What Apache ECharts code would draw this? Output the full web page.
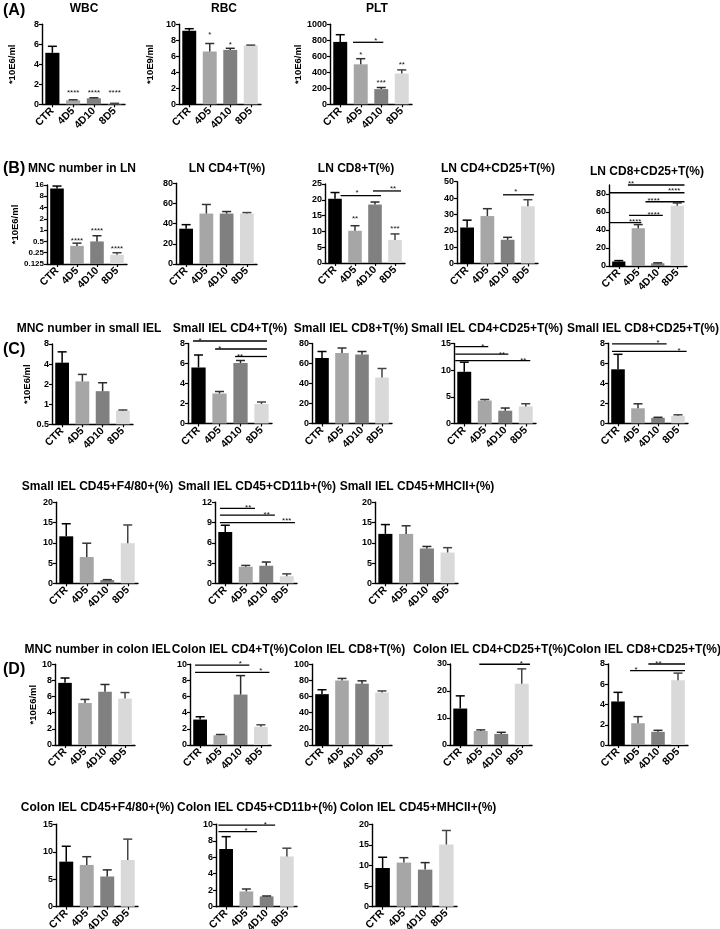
<!DOCTYPE html>
<html><head><meta charset="utf-8">
<script src="https://cdn.jsdelivr.net/npm/echarts@6/dist/echarts.min.js"></script>
<style>html,body{margin:0;padding:0;background:#fff}#c{width:720px;height:929px}</style>
</head><body><div id="c"></div><script>
// ---------- DATA ----------
const groups = ['CTR', '4D5', '4D10', '8D5'];
// (A)
const wbcMean = [5.15, 0.4, 0.6, 0.08];   const wbcErr = [0.65, 0.05, 0.05, 0.02];
const wbcStars = [[1, 1.33, '****'], [2, 1.33, '****'], [3, 1.33, '****']];
const rbcMean = [9.2, 6.6, 6.8, 7.35];    const rbcErr = [0.25, 1.0, 0.2, 0.05];
const rbcStars = [[1, 8.9, '*'], [2, 7.7, '*']];
const pltMean = [780, 500, 190, 385];     const pltErr = [90, 70, 20, 45];
const pltLines = [[0.62, 2.1, 775]];
const pltStars = [[1.74, 825, '*'], [1, 650, '*'], [2, 300, '***'], [3, 520, '**']];
// (B)
const lnMncMean = [13, 0.38, 0.5, 0.22];  const lnMncErr = [2, 0.07, 0.21, 0.03];
const lnMncStars = [[1, 0.58, '****'], [2, 1.07, '****'], [3, 0.36, '****']];
const lnCd4Mean = [35, 50, 50, 50];       const lnCd4Err = [4, 9, 2, 1];
const lnCd8Mean = [20.3, 10.2, 18.5, 7.3]; const lnCd8Err = [2, 1.6, 0.8, 1.9];
const lnCd8Lines = [[0.28, 2.3, 21.3], [1.9, 3.3, 22.8]];
const lnCd8Stars = [[1.1, 22.8, '*'], [2.9, 24.1, '**'], [1, 14.5, '**'], [3, 11.5, '***']];
const lnCd4Cd25Mean = [22, 29, 14.5, 35]; const lnCd4Cd25Err = [4.5, 4.5, 1.5, 4];
const lnCd4Cd25Lines = [[1.77, 3.3, 42]];
const lnCd4Cd25Stars = [[2.4, 45, '*']];
const lnCd8Cd25Mean = [5, 42, 3, 67];     const lnCd8Cd25Err = [1, 4, 0.5, 3];
const lnCd8Cd25Lines = [[0.47, 3.37, 90], [-0.47, 3.37, 81.4], [1.37, 3.37, 71.4], [0.53, 2.26, 56.3], [-0.47, 1.16, 48.1]];
const lnCd8Cd25Stars = [[0.63, 93.3, '**'], [2.84, 85.6, '****'], [1.79, 74.4, '****'], [1.79, 59.2, '****'], [0.84, 51.1, '****']];
// (C)
const siMncMean = [4.2, 2.2, 1.57, 0.8];  const siMncErr = [1.9, 0.6, 0.53, 0.02];
const siCd4Mean = [5.6, 3.0, 6.05, 1.95]; const siCd4Err = [1.25, 0.2, 0.25, 0.2];
const siCd4Lines = [[-0.26, 3.26, 8.25], [0.79, 3.26, 7.45], [1.74, 3.26, 6.7]];
const siCd4Stars = [[0.07, 8.45, '*'], [1.02, 7.68, '*'], [1.98, 6.92, '**']];
const siCd8Mean = [65.5, 70.5, 69, 46];   const siCd8Err = [6.5, 5, 3, 9];
const siCd4Cd25Mean = [9.7, 4.3, 2.4, 3.2]; const siCd4Cd25Err = [1.8, 0.2, 0.5, 0.5];
const siCd4Cd25Lines = [[-0.44, 1.17, 14.4], [-0.44, 2.15, 13.0], [-0.44, 3.22, 11.8]];
const siCd4Cd25Stars = [[0.91, 14.85, '*'], [1.84, 13.35, '**'], [2.88, 12.2, '**']];
const siCd8Cd25Mean = [5.4, 1.5, 0.55, 0.75]; const siCd8Cd25Err = [1.5, 0.45, 0.05, 0.1];
const siCd8Cd25Lines = [[-0.3, 2.43, 7.95], [-0.3, 3.43, 7.2]];
const siCd8Cd25Stars = [[2.0, 8.23, '*'], [3.05, 7.5, '*']];
const siF480Mean = [11.6, 6.5, 0.8, 9.9]; const siF480Err = [3.1, 3.4, 0.1, 4.5];
const siCd11bMean = [7.6, 2.45, 2.6, 1.05]; const siCd11bErr = [1.0, 0.2, 0.55, 0.35];
const siCd11bLines = [[-0.26, 1.45, 11.1], [-0.26, 2.42, 10.1], [-0.26, 3.4, 9.0]];
const siCd11bStars = [[1.12, 11.5, '**'], [2.02, 10.5, '**'], [3.0, 9.5, '***']];
const siMhcMean = [12.2, 12.2, 8.6, 7.6]; const siMhcErr = [2.3, 2.0, 0.5, 1.2];
// (D)
const coMncMean = [7.7, 5.2, 6.6, 5.75];  const coMncErr = [0.6, 0.45, 0.9, 0.75];
const coCd4Mean = [3.15, 1.2, 6.25, 2.25]; const coCd4Err = [0.35, 0.1, 2.35, 0.25];
const coCd4Lines = [[-0.25, 2.43, 9.9], [-0.25, 3.42, 9.0]];
const coCd4Stars = [[1.98, 10.3, '*'], [3.0, 9.4, '*']];
const coCd8Mean = [63, 80, 76, 65];       const coCd8Err = [5.5, 2.5, 3.5, 2];
const coCd4Cd25Mean = [13.5, 5.2, 4.1, 22.7]; const coCd4Cd25Err = [4.7, 0.4, 0.6, 5.5];
const coCd4Cd25Lines = [[0.93, 3.4, 29.9]];
const coCd4Cd25Stars = [[2.98, 30.8, '*']];
const coCd8Cd25Mean = [4.3, 2.15, 1.3, 6.4]; const coCd8Cd25Err = [0.9, 0.65, 0.15, 0.7];
const coCd8Cd25Lines = [[1.52, 3.35, 8.0], [0.6, 3.35, 7.35]];
const coCd8Cd25Stars = [[2.02, 8.2, '**'], [0.9, 7.6, '*']];
const coF480Mean = [8.2, 7.6, 5.5, 8.5];  const coF480Err = [2.8, 1.5, 1.2, 3.8];
const coCd11bMean = [7.0, 1.85, 1.25, 6.1]; const coCd11bErr = [1.5, 0.3, 0.05, 1.0];
const coCd11bLines = [[-0.38, 2.42, 9.9], [-0.38, 1.52, 9.1]];
const coCd11bStars = [[1.93, 10.2, '*'], [0.99, 9.4, '*']];
const coMhcMean = [9.4, 10.7, 9.0, 15.1]; const coMhcErr = [2.6, 1.2, 1.7, 3.4];

// ---------- LAYOUT ----------
const panels = [
  {t:'WBC', tx:84, ty:9, m:wbcMean, e:wbcErr, box:[42,24.3,83,80], y:[0,8,2], unit:'*10E6/ml', gap:25, stars:wbcStars},
  {t:'RBC', tx:224, ty:9, m:rbcMean, e:rbcErr, box:[179,24.3,82,80], y:[0,10,2], unit:'*10E9/ml', gap:24, stars:rbcStars},
  {t:'PLT', tx:377, ty:9, m:pltMean, e:pltErr, box:[330,24.3,82,80], y:[0,1000,200], unit:'*10E6/ml', gap:22, lines:pltLines, stars:pltStars},
  {t:'MNC number in LN', tx:82, ty:169, m:lnMncMean, e:lnMncErr, box:[47,185,80,79], log:[0.125,16,7], unit:'*10E6/ml', gap:11, stars:lnMncStars, lf:8},
  {t:'LN CD4+T(%)', tx:227, ty:169, m:lnCd4Mean, e:lnCd4Err, box:[176,183.3,81,80.7], y:[0,80,20]},
  {t:'LN CD8+T(%)', tx:356, ty:169, m:lnCd8Mean, e:lnCd8Err, box:[325,184,80,79], y:[0,25,5], lines:lnCd8Lines, stars:lnCd8Stars},
  {t:'LN CD4+CD25+T(%)', tx:498, ty:169, m:lnCd4Cd25Mean, e:lnCd4Cd25Err, box:[457,181.7,81,81.8], y:[0,50,10], lines:lnCd4Cd25Lines, stars:lnCd4Cd25Stars},
  {t:'LN CD8+CD25+T(%)', tx:647, ty:172, m:lnCd8Cd25Mean, e:lnCd8Cd25Err, box:[609,185,78,81], y:[0,90,20], ticks:[0,20,40,60,80], lines:lnCd8Cd25Lines, stars:lnCd8Cd25Stars},
  {t:'MNC number in small IEL', tx:89, ty:329, m:siMncMean, e:siMncErr, box:[52,344,81,80.3], log:[0.5,8,4], unit:'*10E6/ml', gap:14},
  {t:'Small IEL CD4+T(%)', tx:230, ty:329, m:siCd4Mean, e:siCd4Err, box:[188,343.5,84,80], y:[0,8,2], lines:siCd4Lines, stars:siCd4Stars},
  {t:'Small IEL CD8+T(%)', tx:351, ty:329, m:siCd8Mean, e:siCd8Err, box:[312,343.5,80,80], y:[0,80,20]},
  {t:'Small IEL CD4+CD25+T(%)', tx:487, ty:329, m:siCd4Cd25Mean, e:siCd4Cd25Err, box:[454,343.5,82,80], y:[0,15,5], lines:siCd4Cd25Lines, stars:siCd4Cd25Stars},
  {t:'Small IEL CD8+CD25+T(%)', tx:643, ty:329, m:siCd8Cd25Mean, e:siCd8Cd25Err, box:[608,343.3,80,80], y:[0,8,2], lines:siCd8Cd25Lines, stars:siCd8Cd25Stars},
  {t:'Small IEL CD45+F4/80+(%)', tx:97.5, ty:487, m:siF480Mean, e:siF480Err, box:[56,502.3,82,81], y:[0,20,5]},
  {t:'Small IEL CD45+CD11b+(%)', tx:257, ty:487, m:siCd11bMean, e:siCd11bErr, box:[215,502.3,82,81], y:[0,12,3], lines:siCd11bLines, stars:siCd11bStars},
  {t:'Small IEL CD45+MHCII+(%)', tx:417, ty:487, m:siMhcMean, e:siMhcErr, box:[375,502.3,83,81], y:[0,20,5]},
  {t:'MNC number in colon IEL', tx:97.5, ty:650, m:coMncMean, e:coMncErr, box:[55,664.3,80,80.7], y:[0,10,2], unit:'*10E6/ml', gap:15},
  {t:'Colon IEL CD4+T(%)', tx:230, ty:650, m:coCd4Mean, e:coCd4Err, box:[190,664.3,81,80.7], y:[0,10,2], lines:coCd4Lines, stars:coCd4Stars},
  {t:'Colon IEL CD8+T(%)', tx:347, ty:650, m:coCd8Mean, e:coCd8Err, box:[312,664.3,80,80.7], y:[0,100,20]},
  {t:'Colon IEL CD4+CD25+T(%)', tx:490, ty:650, m:coCd4Cd25Mean, e:coCd4Cd25Err, box:[450,664,82,81], y:[0,30,10], lines:coCd4Cd25Lines, stars:coCd4Cd25Stars},
  {t:'Colon IEL CD8+CD25+T(%)', tx:644, ty:650, m:coCd8Cd25Mean, e:coCd8Cd25Err, box:[608,664,80,81], y:[0,8,2], lines:coCd8Cd25Lines, stars:coCd8Cd25Stars},
  {t:'Colon IEL CD45+F4/80+(%)', tx:97.5, ty:808, m:coF480Mean, e:coF480Err, box:[56,824.3,82,82.4], y:[0,15,5]},
  {t:'Colon IEL CD45+CD11b+(%)', tx:257, ty:808, m:coCd11bMean, e:coCd11bErr, box:[216,824.3,81,82.4], y:[0,10,2], lines:coCd11bLines, stars:coCd11bStars},
  {t:'Colon IEL CD45+MHCII+(%)', tx:418, ty:808, m:coMhcMean, e:coMhcErr, box:[372,824.3,85,82.4], y:[0,20,5]}
];
const letters = [['(A)', 11], ['(B)', 169], ['(C)', 350], ['(D)', 670]];

// ---------- STYLE ----------
const FONT = '"Liberation Sans", Arial, Helvetica, sans-serif';
const barColors = ['#000000', '#a6a6a6', '#808080', '#d9d9d9'];
const errColors = ['#000000', '#333333', '#2a2a2a', '#444444'];

const option = {
  animation: false, backgroundColor: '#ffffff',
  textStyle: {fontFamily: FONT},
  grid: [], xAxis: [], yAxis: [], series: [], graphic: []
};

function xAt(api, fx, v) {
  const p0 = api.coord([0, v]), p1 = api.coord([1, v]);
  return [p0[0] + (p1[0] - p0[0]) * fx, p0[1]];
}

panels.forEach((p, k) => {
  option.grid.push({left: p.box[0], top: p.box[1], width: p.box[2], height: p.box[3], containLabel: false, outerBoundsMode: 'none'});
  option.xAxis.push({
    type: 'category', gridIndex: k, data: groups,
    axisLine: {show: true, onZero: false, lineStyle: {color: '#000', width: 1.4}},
    axisTick: {show: true, alignWithLabel: true, length: 3, lineStyle: {color: '#000', width: 1.2}},
    axisLabel: {rotate: 45, interval: 0, fontSize: 10.5, fontWeight: 'bold', color: '#000', margin: 5, fontFamily: FONT},
    splitLine: {show: false}
  });
  const ya = {
    gridIndex: k,
    axisLine: {show: true, lineStyle: {color: '#000', width: 1.4}},
    axisTick: {show: true, length: 3, lineStyle: {color: '#000', width: 1.2}},
    axisLabel: {fontSize: p.lf || 9, fontWeight: 'bold', color: '#000', margin: 3, fontFamily: FONT,
      formatter: v => String(+(+v).toPrecision(6))},
    splitLine: {show: false}
  };
  if (p.log) {
    Object.assign(ya, {type: 'log', logBase: 2, min: p.log[0], max: p.log[1], splitNumber: p.log[2]});
  } else {
    Object.assign(ya, {type: 'value', min: p.y[0], max: p.y[1], interval: p.y[2]});
  }
  if (p.ticks) {
    ya.axisLabel.customValues = p.ticks;
    ya.axisTick.customValues = p.ticks;
  }
  if (p.unit) {
    Object.assign(ya, {name: p.unit, nameLocation: 'middle', nameGap: p.gap,
      nameTextStyle: {fontSize: 9.5, fontWeight: 'bold', color: '#000', fontFamily: FONT}});
  }
  option.yAxis.push(ya);

  // bars
  if (p.log) {
    option.series.push({
      type: 'custom', xAxisIndex: k, yAxisIndex: k, silent: true,
      data: p.m.map((v, i) => [i, v]),
      renderItem: (params, api) => {
        const i = api.value(0);
        const top = api.coord([i, api.value(1)]);
        const bot = api.coord([i, p.log[0]]);
        const w = (api.coord([1, p.log[0]])[0] - api.coord([0, p.log[0]])[0]) * 0.68;
        return {type: 'rect', shape: {x: top[0] - w / 2, y: top[1], width: w, height: bot[1] - top[1]}, style: {fill: barColors[i]}};
      }
    });
  } else {
    option.series.push({
      type: 'bar', xAxisIndex: k, yAxisIndex: k, barWidth: '68%', silent: true,
      data: p.m.map((v, i) => ({value: v, itemStyle: {color: barColors[i]}}))
    });
  }
  // error bars (mean + SEM, upper whisker only)
  option.series.push({
    type: 'custom', xAxisIndex: k, yAxisIndex: k, silent: true, clip: false, z: 5,
    data: p.m.map((v, i) => [i, v, v + p.e[i]]),
    renderItem: (params, api) => {
      const i = api.value(0);
      const a = api.coord([i, api.value(1)]);
      const b = api.coord([i, api.value(2)]);
      const c = errColors[i], hw = 4.5;
      return {type: 'group', children: [
        {type: 'line', shape: {x1: a[0], y1: a[1], x2: b[0], y2: b[1]}, style: {stroke: c, lineWidth: 1.5}},
        {type: 'line', shape: {x1: b[0] - hw, y1: b[1], x2: b[0] + hw, y2: b[1]}, style: {stroke: c, lineWidth: 1.5}}
      ]};
    }
  });
  // significance lines
  if (p.lines) {
    option.series.push({
      type: 'custom', xAxisIndex: k, yAxisIndex: k, silent: true, clip: false, z: 6,
      data: p.lines.map(l => [0, l[2]]),
      renderItem: (params, api) => {
        const l = p.lines[params.dataIndex];
        const s = xAt(api, l[0], l[2]), e = xAt(api, l[1], l[2]);
        return {type: 'line', shape: {x1: s[0], y1: s[1], x2: e[0], y2: e[1]}, style: {stroke: '#000', lineWidth: 1.3}};
      }
    });
  }
  // significance stars
  if (p.stars) {
    option.series.push({
      type: 'custom', xAxisIndex: k, yAxisIndex: k, silent: true, clip: false, z: 7,
      data: p.stars.map(s => [0, s[1]]),
      renderItem: (params, api) => {
        const s = p.stars[params.dataIndex];
        const pt = xAt(api, s[0], s[1]);
        return {type: 'text', x: pt[0], y: pt[1] + 2,
          style: {text: s[2], fontSize: 8, fontFamily: FONT, fill: '#111', align: 'center', verticalAlign: 'middle', textAlign: 'center', textVerticalAlign: 'middle'}};
      }
    });
  }
  // title
  option.graphic.push({type: 'text', x: p.tx, y: p.ty, silent: true,
    style: {text: p.t, font: 'bold 12px ' + FONT, fill: '#000', align: 'center', verticalAlign: 'middle', textAlign: 'center', textVerticalAlign: 'middle'}});
});
letters.forEach(l => {
  option.graphic.push({type: 'text', x: 3, y: l[1], silent: true,
    style: {text: l[0], font: 'bold 16px ' + FONT, fill: '#000', align: 'left', verticalAlign: 'middle', textAlign: 'left', textVerticalAlign: 'middle'}});
});

const chart = echarts.init(document.getElementById('c'), null, {renderer: 'canvas', width: 720, height: 929});
chart.setOption(option);
</script></body></html>
